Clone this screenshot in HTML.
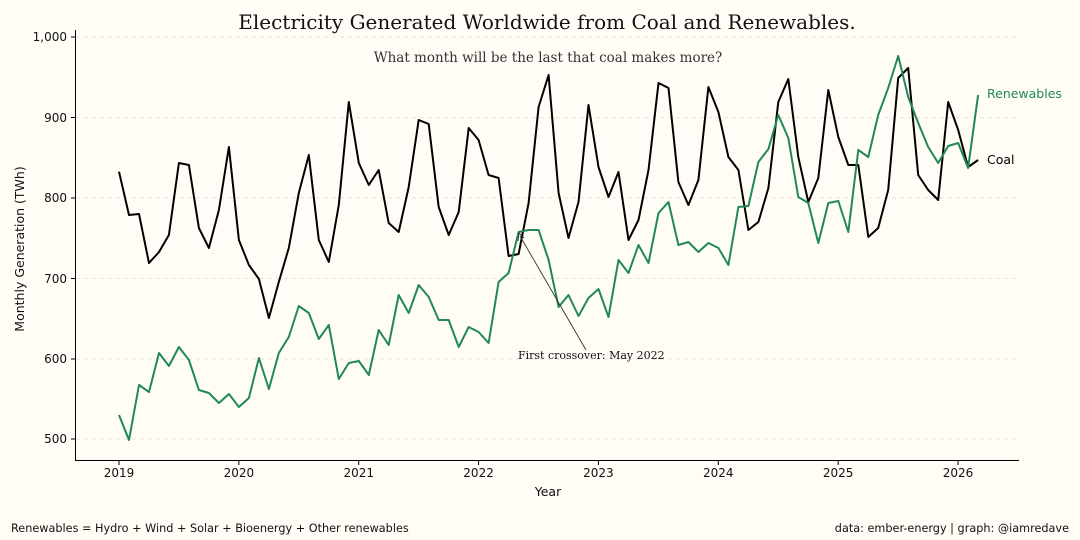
<!DOCTYPE html>
<html><head><meta charset="utf-8"><style>
body{margin:0;background:#fffdf6;}
svg{display:block;font-family:"DejaVu Sans","Liberation Sans",sans-serif;}
</style></head><body>
<svg width="1080" height="540" viewBox="0 0 1080 540" xmlns="http://www.w3.org/2000/svg">
<rect width="1080" height="540" fill="#fffdf6"/>
<g stroke="#e6e3da" stroke-dasharray="4,4" stroke-width="1">
<line x1="76" x2="1019" y1="37" y2="37"/><line x1="76" x2="1019" y1="117.5" y2="117.5"/>
<line x1="76" x2="1019" y1="198" y2="198"/><line x1="76" x2="1019" y1="278.5" y2="278.5"/>
<line x1="76" x2="1019" y1="359" y2="359"/><line x1="76" x2="1019" y1="439" y2="439"/>
</g>
<text x="547" y="29" text-anchor="middle" font-family="'DejaVu Serif','Liberation Serif',serif" font-size="20" fill="#111">Electricity Generated Worldwide from Coal and Renewables.</text>
<text x="548" y="62" text-anchor="middle" font-family="'DejaVu Serif','Liberation Serif',serif" font-size="13.5" fill="#333">What month will be the last that coal makes more?</text>
<line x1="75.5" x2="75.5" y1="30" y2="461" stroke="#000"/>
<line x1="75" x2="1019" y1="460.5" y2="460.5" stroke="#000"/>
<g font-size="12" fill="#111" text-anchor="end">
<text x="67" y="41">1,000</text><text x="67" y="122">900</text><text x="67" y="202">800</text>
<text x="67" y="283">700</text><text x="67" y="363">600</text><text x="67" y="443">500</text>
</g>
<g stroke="#000"><line x1="71" x2="75" y1="37" y2="37"/><line x1="71" x2="75" y1="117.5" y2="117.5"/><line x1="71" x2="75" y1="198" y2="198"/><line x1="71" x2="75" y1="278.5" y2="278.5"/><line x1="71" x2="75" y1="359" y2="359"/><line x1="71" x2="75" y1="439" y2="439"/></g>
<g font-size="12" fill="#111" text-anchor="middle" id="xt"></g>
<text x="548" y="496" text-anchor="middle" font-size="12.5" fill="#111">Year</text>
<text transform="translate(24,249) rotate(-90)" text-anchor="middle" font-size="12.5" fill="#111">Monthly Generation (TWh)</text>
<polyline id="coal" fill="none" stroke="#000" stroke-width="2" stroke-linejoin="round"/>
<polyline id="ren" fill="none" stroke="#218856" stroke-width="2" stroke-linejoin="round"/>
<line x1="586" y1="350" x2="520" y2="236" stroke="#333" stroke-width="0.9"/>
<polyline points="518,241 519,233 524,238" fill="none" stroke="#333" stroke-width="0.9"/>
<text x="518" y="359" font-family="'DejaVu Serif','Liberation Serif',serif" font-size="11" fill="#111">First crossover: May 2022</text>
<text x="987" y="98" font-size="12.5" fill="#218856">Renewables</text>
<text x="987" y="164" font-size="12.5" fill="#000">Coal</text>
<text x="11" y="532" font-size="11.25" fill="#111">Renewables = Hydro + Wind + Solar + Bioenergy + Other renewables</text>
<text x="1069" y="532" text-anchor="end" font-size="11.25" fill="#111">data: ember-energy | graph: @iamredave</text>
</svg>
<script>
var coal=[171.7,215,214,263,252,235,163,165,228,248,210,147,240,265,279,318,282,248,193,155,240,262,205,102,163,185,170,223,232,187,120,124,207,235,212,128,140,175,178,256,254,203,107,75,193,238,202,105,167,197,172,240,220,170,83,88,182,205,180,87,112,157,170,230,222,188,102,79,157,202,178,90,137,165,165,237,228,190,78,68,175,190,200,102,130,167,160];
var ren=[415,440,385,392,353,366,347,360,390,393,403,394,407,398,358,389,353,337,306,313,339,325,379,363,361,375,330,345,295,313,285,297,320,320,347,327,332,343,282,273,232,230,230,260,307,295,316,298,289,317,260,273,245,263,213,202,245,242,252,243,248,265,207,206,162,149,115,138,197,203,243,203,201,232,150,157,115,88,56,97,123,147,163,146,143,168,95];
function pts(a){return a.map(function(y,i){return (119+9.99*i).toFixed(1)+","+y}).join(" ");}
document.getElementById('coal').setAttribute('points',pts(coal));
document.getElementById('ren').setAttribute('points',pts(ren));
var g=document.getElementById('xt'),ns="http://www.w3.org/2000/svg";
for(var k=0;k<8;k++){var x=119+119.86*k;var t=document.createElementNS(ns,'text');t.setAttribute('x',x);t.setAttribute('y',477);t.textContent=2019+k;g.appendChild(t);
var l=document.createElementNS(ns,'line');l.setAttribute('x1',x);l.setAttribute('x2',x);l.setAttribute('y1',461);l.setAttribute('y2',465);l.setAttribute('stroke','#000');g.parentNode.appendChild(l);}
</script>
</body></html>
